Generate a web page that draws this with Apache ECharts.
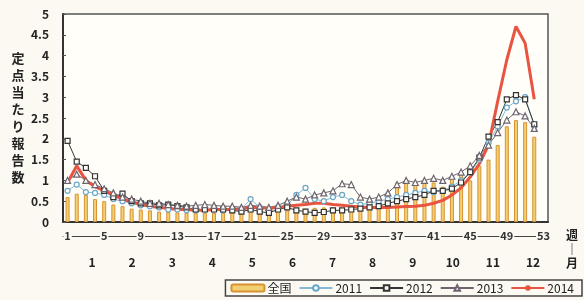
<!DOCTYPE html>
<html><head><meta charset="utf-8">
<script src="https://cdn.jsdelivr.net/npm/echarts@6/dist/echarts.min.js"></script>
<style>html,body{margin:0;padding:0;background:#fbf9f1;}#c{width:584px;height:300px;}</style>
</head><body><div id="c"></div>
<script>
const weeks = ['1','2','3','4','5','6','7','8','9','10','11','12','13','14','15','16','17','18','19','20','21','22','23','24','25','26','27','28','29','30','31','32','33','34','35','36','37','38','39','40','41','42','43','44','45','46','47','48','49','50','51','52','53'];
const weekTickLabels = ['1','5','9','13','17','21','25','29','33','37','41','45','49','53'];
const months = ['1','2','3','4','5','6','7','8','9','10','11','12'];

const national = [0.6,0.68,0.65,0.55,0.5,0.42,0.38,0.32,0.3,0.28,0.25,0.24,0.23,0.22,0.22,0.22,0.22,0.23,0.23,0.24,0.25,0.25,0.25,0.26,0.28,0.3,0.32,0.34,0.35,0.35,0.33,0.33,0.4,0.45,0.5,0.7,0.95,1.0,0.98,1.0,0.95,0.85,1.05,1.15,1.0,1.35,1.5,1.85,2.3,2.45,2.4,2.05];
const y2011 = [0.75,0.9,0.72,0.7,0.65,0.55,0.5,0.45,0.4,0.38,0.35,0.3,0.3,0.28,0.28,0.3,0.3,0.28,0.3,0.32,0.55,0.35,0.3,0.35,0.4,0.65,0.82,0.55,0.5,0.6,0.65,0.5,0.42,0.45,0.5,0.55,0.6,0.65,0.7,0.75,0.72,0.75,0.85,1.0,1.2,1.5,1.9,2.3,2.75,2.9,3.0,2.3];
const y2012 = [1.95,1.45,1.3,1.1,0.75,0.6,0.68,0.5,0.45,0.45,0.4,0.42,0.38,0.35,0.3,0.3,0.3,0.3,0.28,0.25,0.3,0.25,0.22,0.3,0.35,0.28,0.25,0.22,0.24,0.28,0.28,0.3,0.32,0.35,0.38,0.45,0.5,0.55,0.6,0.65,0.75,0.75,0.8,0.95,1.2,1.55,2.05,2.4,2.95,3.05,2.95,2.35];
const y2013 = [1.0,1.15,1.0,0.9,0.8,0.7,0.6,0.55,0.5,0.45,0.45,0.42,0.4,0.38,0.4,0.42,0.4,0.38,0.38,0.35,0.4,0.38,0.35,0.4,0.5,0.6,0.55,0.65,0.7,0.75,0.92,0.9,0.6,0.55,0.6,0.7,0.9,1.0,0.95,1.0,1.05,1.0,1.1,1.2,1.35,1.6,1.85,2.15,2.45,2.65,2.55,2.25];
const y2014 = [0.95,1.35,1.0,0.85,0.75,0.65,0.55,0.48,0.42,0.38,0.35,0.33,0.3,0.3,0.28,0.28,0.3,0.3,0.3,0.32,0.35,0.35,0.33,0.35,0.38,0.4,0.42,0.45,0.45,0.42,0.4,0.38,0.36,0.35,0.35,0.35,0.36,0.37,0.38,0.4,0.45,0.52,0.65,0.82,1.08,1.4,1.85,2.9,3.9,4.7,4.3,2.95];

const font = '"Noto Sans CJK JP", "Noto Sans", sans-serif';
const bg = '#fbf9f1';
const chart = echarts.init(document.getElementById('c'));
chart.setOption({
  animation: false,
  backgroundColor: bg,
  textStyle: { fontFamily: font },
  legend: {
    data: ['全国', '2011', '2012', '2013', '2014'],
    right: 2, top: 280,
    orient: 'horizontal',
    itemWidth: 33, itemHeight: 7, itemGap: 7,
    padding: [2, 8, 2, 5],
    borderColor: '#444', borderWidth: 1.5,
    textStyle: { fontSize: 12, color: '#222', padding: [0, 0, 0, -2] }
  },
  grid: [
    { left: 63, right: 36, top: 14, bottom: 78, show: true, borderColor: '#555', borderWidth: 1.5, backgroundColor: '#fffef9' },
    { left: 72, right: 31, top: 14, bottom: 78, show: false }
  ],
  xAxis: [
    { type: 'category', gridIndex: 0, data: weeks, boundaryGap: true,
      axisLine: { lineStyle: { color: '#333', width: 2 } }, axisTick: { show: false }, axisLabel: { show: false } },
    { type: 'category', gridIndex: 0, position: 'bottom', offset: 14, data: weeks, boundaryGap: true,
      axisLine: { lineStyle: { color: '#444', width: 1.2 } }, axisTick: { show: false },
      axisLabel: { interval: 0, margin: 0, verticalAlign: 'middle', backgroundColor: bg, padding: [0, 1],
        color: '#333', fontSize: 11, fontWeight: 'bold',
        formatter: v => weekTickLabels.indexOf(v) >= 0 ? v : '' },
      name: '週\n｜\n月', nameLocation: 'end', nameGap: 18,
      nameTextStyle: { fontSize: 12, fontWeight: 'bold', color: '#222', lineHeight: 14, verticalAlign: 'top', padding: [-8, 0, 0, 0] } },
    { type: 'category', gridIndex: 1, offset: 34, data: months,
      axisLine: { show: false }, axisTick: { show: false },
      axisLabel: { margin: 0, fontSize: 12, fontWeight: 'bold', color: '#222' } }
  ],
  yAxis: [
    { type: 'value', gridIndex: 0, min: 0, max: 5, interval: 0.5,
      axisLine: { show: true, lineStyle: { color: '#333', width: 2 } },
      axisTick: { show: true, inside: true, length: 3, lineStyle: { color: '#555' } },
      splitLine: { show: false },
      axisLabel: { margin: 14, fontWeight: 'bold', fontSize: 12, color: '#222' },
      name: '定\n点\n当\nた\nり\n報\n告\n数', nameLocation: 'middle', nameGap: 45, nameRotate: 0,
      nameTextStyle: { fontSize: 13, fontWeight: 'bold', color: '#222', lineHeight: 17, align: 'center' } },
    { type: 'value', gridIndex: 1, show: false }
  ],
  series: [
    { name: '全国', type: 'bar', xAxisIndex: 0, yAxisIndex: 0, data: national, barWidth: 4,
      itemStyle: { color: '#f2cf73', borderColor: '#d89232', borderWidth: 1 } },
    { name: '2011', type: 'line', data: y2011, symbol: 'circle', symbolSize: 5, showAllSymbol: true,
      lineStyle: { color: '#86b9d8', width: 1 }, itemStyle: { color: '#fffef9', borderColor: '#6aa6c8', borderWidth: 1.2 } },
    { name: '2012', type: 'line', data: y2012, symbol: 'rect', symbolSize: 5, showAllSymbol: true,
      lineStyle: { color: '#333', width: 1 }, itemStyle: { color: '#fffef9', borderColor: '#333', borderWidth: 1.2 } },
    { name: '2013', type: 'line', data: y2013, symbol: 'triangle', symbolSize: 6, showAllSymbol: true,
      lineStyle: { color: '#6d6470', width: 1 }, itemStyle: { color: '#fffef9', borderColor: '#6d6470', borderWidth: 1.2 } },
    { name: '2014', type: 'line', data: y2014, symbol: 'none',
      lineStyle: { color: '#e8543f', width: 3 }, itemStyle: { color: '#e8543f' } }
  ]
});
</script></body></html>
